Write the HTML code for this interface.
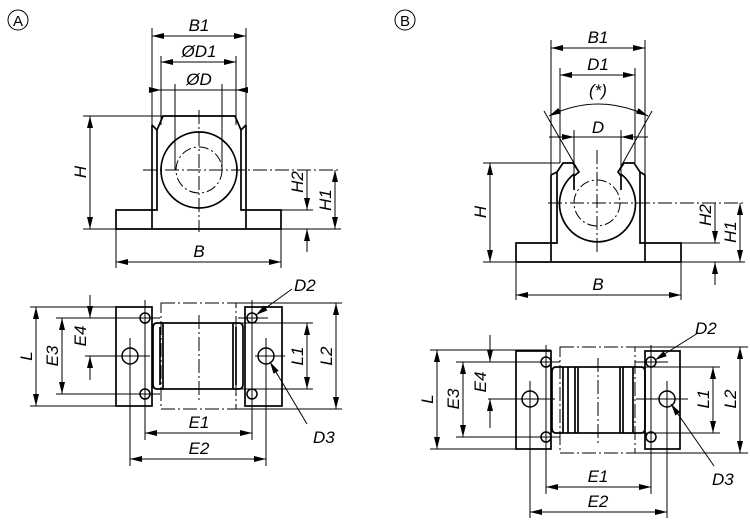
<!DOCTYPE html>
<html><head><meta charset="utf-8"><style>
html,body{margin:0;padding:0;background:#fff;}
svg{display:block;}
text{font-family:"Liberation Sans",sans-serif;font-style:italic;font-size:17px;fill:#000;}
</style></head><body>
<svg width="750" height="523" viewBox="0 0 750 523" xmlns="http://www.w3.org/2000/svg">
<defs>
<marker id="a" viewBox="0 0 12 6" refX="12" refY="3" markerWidth="12" markerHeight="6" markerUnits="userSpaceOnUse" orient="auto-start-reverse"><path d="M0,0 L12,3 L0,6 z" fill="#000"/></marker>
</defs>
<g fill="none" stroke="#000" stroke-width="1">
<circle cx="18" cy="20" r="10"/>
<line x1="152" y1="28" x2="152" y2="125"/><line x1="246" y1="28" x2="246" y2="125"/>
<line x1="152" y1="36" x2="246" y2="36" marker-start="url(#a)" marker-end="url(#a)"/>
<line x1="161" y1="56" x2="161" y2="125"/><line x1="236" y1="56" x2="236" y2="125"/>
<line x1="161" y1="62" x2="236" y2="62" marker-start="url(#a)" marker-end="url(#a)"/>
<line x1="175" y1="84" x2="175" y2="170"/><line x1="222" y1="84" x2="222" y2="170"/>
<line x1="149" y1="90" x2="248" y2="90"/>
<line x1="158" y1="90" x2="161" y2="90" marker-end="url(#a)"/>
<line x1="240" y1="90" x2="236" y2="90" marker-end="url(#a)"/>
<g stroke-width="1.7">
<path d="M116,229 L116,210 L157,210 L157,130 L163,116 L235,116 L241,130 L241,210 L281,210 L281,229 Z"/>
<line x1="152" y1="125" x2="152" y2="229"/><line x1="246" y1="125" x2="246" y2="229"/>
<line x1="152" y1="125" x2="157" y2="130"/><line x1="246" y1="125" x2="241" y2="130"/>
<circle cx="199" cy="170" r="38"/>
</g>
<circle cx="199" cy="170" r="23" stroke-dasharray="10,3,2,3"/>
<line x1="143" y1="170" x2="341" y2="170" stroke-dasharray="14,3,2,3"/>
<line x1="199" y1="110" x2="199" y2="232" stroke-dasharray="14,3,2,3"/>
<line x1="83" y1="116" x2="163" y2="116"/><line x1="83" y1="229" x2="341" y2="229"/>
<line x1="90" y1="116" x2="90" y2="229" marker-start="url(#a)" marker-end="url(#a)"/>
<line x1="281" y1="210" x2="313" y2="210"/>
<line x1="307" y1="170" x2="307" y2="210" marker-end="url(#a)"/>
<line x1="307" y1="252" x2="307" y2="229" marker-end="url(#a)"/>
<line x1="335" y1="170" x2="335" y2="229" marker-start="url(#a)" marker-end="url(#a)"/>
<line x1="116" y1="229" x2="116" y2="268"/><line x1="281" y1="229" x2="281" y2="268"/>
<line x1="116" y1="262" x2="281" y2="262" marker-start="url(#a)" marker-end="url(#a)"/>
<g stroke-width="1.7">
<rect x="116" y="307" width="36" height="99"/>
<rect x="245" y="307" width="37" height="99"/>
<rect x="163" y="323" width="70" height="66"/>
<path d="M163,323 L157,323 Q153,323 153,328 L153,384 Q153,389 157,389 L163,389"/>
<path d="M233,323 L239,323 Q243,323 243,328 L243,384 Q243,389 239,389 L233,389"/>
<line x1="160" y1="327" x2="160" y2="385"/><line x1="236" y1="327" x2="236" y2="385"/>
</g>
<rect x="161" y="303" width="75" height="106" stroke-dasharray="14,3,2,3"/>
<line x1="199" y1="315" x2="199" y2="400" stroke-dasharray="14,3,2,3"/>
<g stroke-width="1.5">
<circle cx="145" cy="318" r="5"/><circle cx="145" cy="394" r="5"/>
<circle cx="252" cy="318" r="5"/><circle cx="252" cy="394" r="5"/>
<circle cx="130" cy="356" r="8"/><circle cx="266" cy="356" r="8"/>
</g>
<line x1="85" y1="356" x2="150" y2="356"/><line x1="130" y1="338" x2="130" y2="372"/>
<line x1="255" y1="356" x2="285" y2="356"/><line x1="266" y1="338" x2="266" y2="372"/>
<line x1="30" y1="307" x2="150" y2="307"/><line x1="30" y1="406" x2="150" y2="406"/>
<line x1="36" y1="307" x2="36" y2="406" marker-start="url(#a)" marker-end="url(#a)"/>
<line x1="56" y1="318" x2="160" y2="318"/><line x1="56" y1="394" x2="160" y2="394"/>
<line x1="62" y1="318" x2="62" y2="394" marker-start="url(#a)" marker-end="url(#a)"/>
<line x1="90" y1="295" x2="90" y2="318" marker-end="url(#a)"/>
<line x1="90" y1="380" x2="90" y2="356" marker-end="url(#a)"/>
<line x1="238" y1="318" x2="268" y2="318"/>
<line x1="233" y1="323" x2="313" y2="323"/><line x1="233" y1="389" x2="313" y2="389"/>
<line x1="307" y1="323" x2="307" y2="389" marker-start="url(#a)" marker-end="url(#a)"/>
<line x1="236" y1="303" x2="342" y2="303"/><line x1="236" y1="409" x2="342" y2="409"/>
<line x1="336" y1="303" x2="336" y2="409" marker-start="url(#a)" marker-end="url(#a)"/>
<line x1="145" y1="300" x2="145" y2="440"/><line x1="252" y1="300" x2="252" y2="440"/>
<line x1="145" y1="433" x2="252" y2="433" marker-start="url(#a)" marker-end="url(#a)"/>
<line x1="130" y1="372" x2="130" y2="466"/><line x1="266" y1="372" x2="266" y2="466"/>
<line x1="130" y1="459" x2="266" y2="459" marker-start="url(#a)" marker-end="url(#a)"/>
<line x1="292" y1="289" x2="256" y2="315" marker-end="url(#a)"/>
<line x1="307" y1="424" x2="270" y2="362" marker-end="url(#a)"/>
<circle cx="405" cy="20" r="10"/>
<line x1="551" y1="40" x2="551" y2="175"/><line x1="645" y1="40" x2="645" y2="175"/>
<line x1="551" y1="48" x2="645" y2="48" marker-start="url(#a)" marker-end="url(#a)"/>
<line x1="560" y1="68" x2="560" y2="163"/><line x1="635" y1="68" x2="635" y2="163"/>
<line x1="560" y1="75" x2="635" y2="75" marker-start="url(#a)" marker-end="url(#a)"/>
<path d="M549,116 Q598,92 648,116" marker-start="url(#a)" marker-end="url(#a)"/>
<line x1="544" y1="111" x2="578" y2="170"/><line x1="652" y1="111" x2="619" y2="170"/>
<line x1="549" y1="137" x2="648" y2="137"/>
<line x1="560" y1="137" x2="574" y2="137" marker-end="url(#a)"/>
<line x1="635" y1="137" x2="621" y2="137" marker-end="url(#a)"/>
<g stroke-width="1.7">
<path d="M516,262 L516,243 L557,243 L557,172 L563,163 L573,163 L579,172 L574,176 L574,190"/>
<path d="M681,262 L681,243 L640,243 L640,172 L634,163 L624,163 L618,172 L621,176 L621,190"/>
<line x1="516" y1="262" x2="681" y2="262"/>
<line x1="551" y1="175" x2="551" y2="262"/><line x1="645" y1="175" x2="645" y2="262"/>
<line x1="551" y1="175" x2="557" y2="172"/><line x1="645" y1="175" x2="640" y2="172"/>
<path d="M574,174 A38,38 0 1,0 621,174"/>
</g>
<line x1="574" y1="130" x2="574" y2="175"/><line x1="621" y1="130" x2="621" y2="175"/>
<circle cx="597" cy="203" r="23" stroke-dasharray="10,3,2,3"/>
<line x1="548" y1="203" x2="745" y2="203" stroke-dasharray="14,3,2,3"/>
<line x1="597" y1="150" x2="597" y2="252" stroke-dasharray="14,3,2,3"/>
<line x1="483" y1="163" x2="560" y2="163"/><line x1="483" y1="262" x2="745" y2="262"/>
<line x1="490" y1="163" x2="490" y2="262" marker-start="url(#a)" marker-end="url(#a)"/>
<line x1="681" y1="243" x2="720" y2="243"/>
<line x1="715" y1="203" x2="715" y2="243" marker-end="url(#a)"/>
<line x1="715" y1="285" x2="715" y2="262" marker-end="url(#a)"/>
<line x1="740" y1="203" x2="740" y2="262" marker-start="url(#a)" marker-end="url(#a)"/>
<line x1="516" y1="262" x2="516" y2="300"/><line x1="681" y1="262" x2="681" y2="300"/>
<line x1="516" y1="295" x2="681" y2="295" marker-start="url(#a)" marker-end="url(#a)"/>
<g stroke-width="1.7">
<rect x="516" y="351" width="35" height="98"/>
<rect x="645" y="351" width="35" height="98"/>
<rect x="563" y="367" width="60" height="66"/>
<path d="M563,367 L556,367 Q552,367 552,372 L552,428 Q552,433 556,433 L563,433"/>
<path d="M623,367 L641,367 Q645,367 645,372 L645,428 Q645,433 641,433 L623,433"/>
<line x1="575" y1="367" x2="575" y2="433"/><line x1="578" y1="367" x2="578" y2="433"/>
<line x1="620" y1="367" x2="620" y2="433"/><line x1="633" y1="367" x2="633" y2="433"/>
<line x1="568" y1="367" x2="568" y2="433"/>
</g>
<rect x="560" y="347" width="75" height="106" stroke-dasharray="14,3,2,3"/>
<line x1="598" y1="358" x2="598" y2="445" stroke-dasharray="14,3,2,3"/>
<g stroke-width="1.5">
<circle cx="546" cy="362" r="5"/><circle cx="546" cy="437" r="5"/>
<circle cx="651" cy="362" r="5"/><circle cx="651" cy="437" r="5"/>
<circle cx="530" cy="399" r="8"/><circle cx="667" cy="399" r="8"/>
</g>
<line x1="488" y1="399" x2="555" y2="399"/><line x1="530" y1="381" x2="530" y2="416"/>
<line x1="636" y1="399" x2="688" y2="399"/><line x1="667" y1="381" x2="667" y2="416"/>
<line x1="430" y1="350" x2="551" y2="350"/><line x1="430" y1="449" x2="551" y2="449"/>
<line x1="437" y1="350" x2="437" y2="449" marker-start="url(#a)" marker-end="url(#a)"/>
<line x1="456" y1="362" x2="560" y2="362"/><line x1="456" y1="437" x2="560" y2="437"/>
<line x1="463" y1="362" x2="463" y2="437" marker-start="url(#a)" marker-end="url(#a)"/>
<line x1="490" y1="335" x2="490" y2="362" marker-end="url(#a)"/>
<line x1="490" y1="428" x2="490" y2="399" marker-end="url(#a)"/>
<line x1="635" y1="362" x2="668" y2="362"/>
<line x1="623" y1="367" x2="720" y2="367"/><line x1="623" y1="433" x2="720" y2="433"/>
<line x1="713" y1="367" x2="713" y2="433" marker-start="url(#a)" marker-end="url(#a)"/>
<line x1="635" y1="347" x2="748" y2="347"/><line x1="635" y1="453" x2="748" y2="453"/>
<line x1="740" y1="347" x2="740" y2="453" marker-start="url(#a)" marker-end="url(#a)"/>
<line x1="546" y1="345" x2="546" y2="494"/><line x1="651" y1="345" x2="651" y2="494"/>
<line x1="546" y1="487" x2="651" y2="487" marker-start="url(#a)" marker-end="url(#a)"/>
<line x1="530" y1="416" x2="530" y2="518"/><line x1="667" y1="416" x2="667" y2="518"/>
<line x1="530" y1="512" x2="667" y2="512" marker-start="url(#a)" marker-end="url(#a)"/>
<line x1="698" y1="333" x2="655" y2="360" marker-end="url(#a)"/>
<line x1="714" y1="466" x2="671" y2="404" marker-end="url(#a)"/>
</g>
<g>
<text x="18" y="26" text-anchor="middle" style="font-style:normal;font-size:15px">A</text>
<text x="199" y="31" text-anchor="middle">B1</text>
<text x="199" y="57" text-anchor="middle">ØD1</text>
<text x="199" y="85" text-anchor="middle">ØD</text>
<text transform="translate(86,172) rotate(-90)" text-anchor="middle">H</text>
<text transform="translate(303,182) rotate(-90)" text-anchor="middle">H2</text>
<text transform="translate(331,200) rotate(-90)" text-anchor="middle">H1</text>
<text x="199" y="257" text-anchor="middle">B</text>
<text transform="translate(32,356) rotate(-90)" text-anchor="middle">L</text>
<text transform="translate(58,356) rotate(-90)" text-anchor="middle">E3</text>
<text transform="translate(86,336) rotate(-90)" text-anchor="middle">E4</text>
<text transform="translate(303,356) rotate(-90)" text-anchor="middle">L1</text>
<text transform="translate(332,356) rotate(-90)" text-anchor="middle">L2</text>
<text x="199" y="428" text-anchor="middle">E1</text>
<text x="199" y="454" text-anchor="middle">E2</text>
<text x="294" y="291">D2</text>
<text x="313" y="443">D3</text>
<text x="405" y="26" text-anchor="middle" style="font-style:normal;font-size:15px">B</text>
<text x="598" y="43" text-anchor="middle">B1</text>
<text x="598" y="70" text-anchor="middle">D1</text>
<text x="598" y="96" text-anchor="middle">(*)</text>
<text x="598" y="133" text-anchor="middle">D</text>
<text transform="translate(486,212) rotate(-90)" text-anchor="middle">H</text>
<text transform="translate(711,215) rotate(-90)" text-anchor="middle">H2</text>
<text transform="translate(736,232) rotate(-90)" text-anchor="middle">H1</text>
<text x="598" y="290" text-anchor="middle">B</text>
<text transform="translate(433,399) rotate(-90)" text-anchor="middle">L</text>
<text transform="translate(459,399) rotate(-90)" text-anchor="middle">E3</text>
<text transform="translate(486,382) rotate(-90)" text-anchor="middle">E4</text>
<text transform="translate(709,399) rotate(-90)" text-anchor="middle">L1</text>
<text transform="translate(736,399) rotate(-90)" text-anchor="middle">L2</text>
<text x="598" y="482" text-anchor="middle">E1</text>
<text x="598" y="507" text-anchor="middle">E2</text>
<text x="695" y="334">D2</text>
<text x="712" y="485">D3</text>
</g>
</svg>
</body></html>
